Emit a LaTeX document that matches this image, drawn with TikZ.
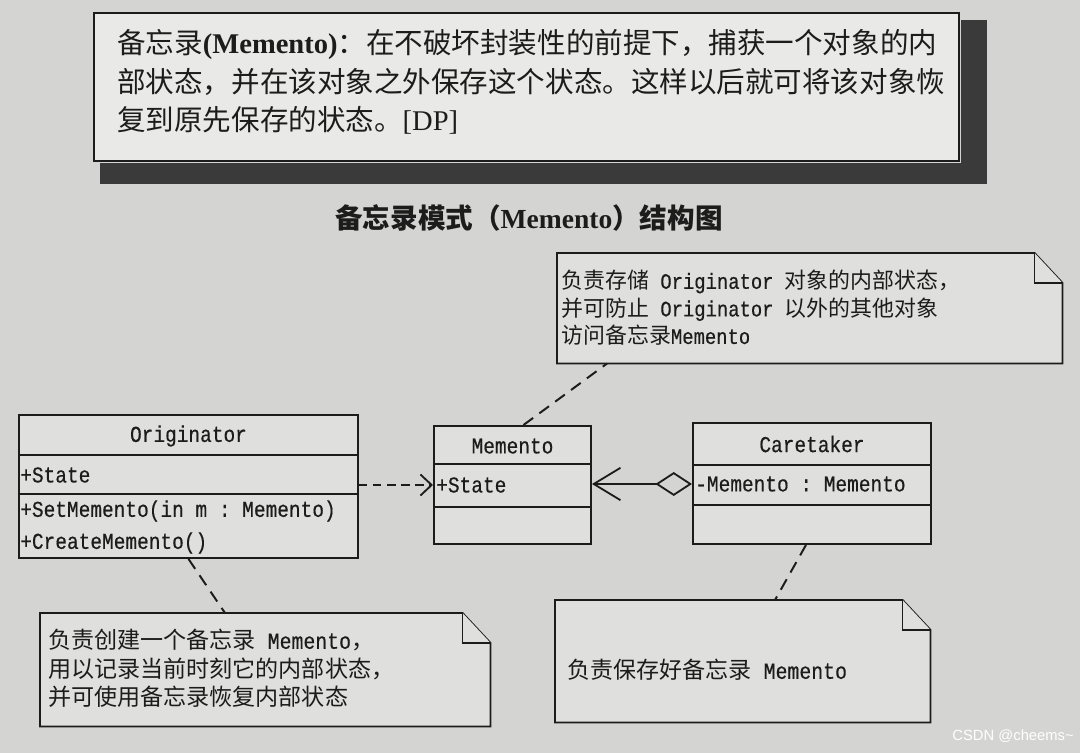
\documentclass[tikz,border=0pt]{standalone}
\usepackage{fontspec}
\setmainfont{Liberation Serif}
\setmonofont[FakeStretch=0.86, FakeBold=0.4]{Liberation Mono}
\newfontfamily\cjk{Noto Sans CJK SC}
\newfontfamily\wmfont{Liberation Sans}
\usetikzlibrary{arrows.meta,positioning}
\definecolor{PaperGray}{RGB}{212,212,210}
\definecolor{BoxGray}{RGB}{223,223,221}
\definecolor{DefGray}{RGB}{233,233,231}
\definecolor{ShadowGray}{RGB}{58,58,58}
\definecolor{InkBlack}{RGB}{28,28,28}
\newcommand{\pxu}{0.025cm}
\newcommand{\zh}[1]{{\cjk #1}}
% note outline with folded corner
\newcommand{\notecorner}[1]{%
  \filldraw[noteline] (#1.south west) -- (#1.north west) -- ([xshift=-28*\pxu]#1.north east)
    -- ([yshift=-30*\pxu]#1.north east) -- (#1.south east) -- cycle;
  \draw[noteline] ([xshift=-28*\pxu]#1.north east) |- ([yshift=-30*\pxu]#1.north east);
}
\tikzset{
  defbox/.style={draw=InkBlack, line width=1.5pt, fill=DefGray, anchor=north west, inner sep=0pt},
  deftext/.style={anchor=north west, align=left, inner sep=0pt, text=InkBlack,
    font=\fontsize{20.3}{27.5}\selectfont},
  titletext/.style={inner sep=0pt, text=InkBlack, font=\fontsize{19.6}{22}\selectfont},
  umlbox/.style={draw=InkBlack, line width=1.4pt, fill=BoxGray, anchor=north west, inner sep=0pt},
  umlline/.style={draw=InkBlack, line width=1.4pt},
  classname/.style={inner sep=0pt, text=InkBlack, font=\ttfamily\fontsize{16.1}{18}\selectfont},
  member/.style={anchor=west, inner sep=0pt, text=InkBlack, font=\ttfamily\fontsize{16.1}{18}\selectfont},
  notebox/.style={anchor=north west, inner sep=0pt, draw=none},
  noteline/.style={draw=InkBlack, fill=BoxGray, line width=1.3pt, line join=miter},
  notetext/.style={anchor=north west, align=left, inner sep=0pt, text=InkBlack,
    font=\ttfamily\fontsize{15.6}{19.6}\selectfont},
  notelink/.style={draw=InkBlack, line width=1.4pt, dash pattern=on 8.5pt off 5.5pt},
  depend/.style={draw=InkBlack, line width=1.3pt, dash pattern=on 6pt off 4pt,
    -{Straight Barb[length=8pt, width=15pt]}},
  aggr/.style={draw=InkBlack, line width=1.3pt,
    {Diamond[open, length=26pt, width=17pt]}-{Straight Barb[length=19pt, width=23pt]}},
}

\begin{document}
\begin{tikzpicture}[x=0.025cm, y=-0.025cm]
  \useasboundingbox[fill=PaperGray] (0,0) rectangle (1080,753);

  % definition box
  \node[defbox, minimum width=865*\pxu, minimum height=148*\pxu] (defn) at (93,12) {};
  \fill[ShadowGray] ([shift={(1,8)}]defn.north east) rectangle ([shift={(27,22)}]defn.south east);
  \fill[ShadowGray] ([shift={(7,1)}]defn.south west) rectangle ([shift={(27,22)}]defn.south east);
  \node[deftext] (deftxt) at (117,29) {\zh{备忘录}\textbf{(Memento)}\zh{：在不破坏封装性的前提下，捕获一个对象的内}\\
    \zh{部状态，并在该对象之外保存这个状态。这样以后就可将该对象恢}\\
    \zh{复到原先保存的状态。}[DP]};

  \node[titletext] (title) at (529,218) {\zh{\bfseries 备忘录模式（}\textbf{Memento}\zh{\bfseries ）结构图}};

  % notes
  \node[notebox, minimum width=505*\pxu, minimum height=110*\pxu] (storenote) at (557,253) {};
  \notecorner{storenote}
  \node[notetext] (storenote-txt) at (561,270) {\zh{负责存储} Originator \zh{对象的内部状态，}\\
    \zh{并可防止} Originator \zh{以外的其他对象}\\
    \zh{访问备忘录}Memento};

  \node[notebox, minimum width=450*\pxu, minimum height=113*\pxu] (orignote) at (40,613) {};
  \notecorner{orignote}
  \node[notetext, font=\ttfamily\fontsize{16.4}{20.3}\selectfont] (orignote-txt) at (48,629) {\zh{负责创建一个备忘录} Memento\zh{，}\\
    \zh{用以记录当前时刻它的内部状态，}\\
    \zh{并可使用备忘录恢复内部状态}};

  \node[notebox, minimum width=375*\pxu, minimum height=122*\pxu] (carenote) at (555,600) {};
  \notecorner{carenote}
  \node[notetext, anchor=west, font=\ttfamily\fontsize{16.4}{20.3}\selectfont] (carenote-txt) at (567,670) {\zh{负责保存好备忘录} Memento};

  % classes
  \node[umlbox, minimum width=339*\pxu, minimum height=143*\pxu] (orig) at (18,414) {};
  \draw[umlline] (orig.west |- 0,455) -- (orig.east |- 0,455);
  \draw[umlline] (orig.west |- 0,494) -- (orig.east |- 0,494);
  \node[classname] (orig-name) at (orig.north |- 0,436) {Originator};
  \node[member] (orig-state) at (20,475) {+State};
  \node[member] (orig-set) at (20,511) {+SetMemento(in m : Memento)};
  \node[member] (orig-create) at (20,543) {+CreateMemento()};

  \node[umlbox, minimum width=157*\pxu, minimum height=118*\pxu] (mem) at (433,425) {};
  \draw[umlline] (mem.west |- 0,464) -- (mem.east |- 0,464);
  \draw[umlline] (mem.west |- 0,507) -- (mem.east |- 0,507);
  \node[classname] (mem-name) at (mem.north |- 0,446) {Memento};
  \node[member] (mem-state) at (436,485) {+State};

  \node[umlbox, minimum width=238*\pxu, minimum height=121*\pxu] (care) at (692,422) {};
  \draw[umlline] (care.west |- 0,465) -- (care.east |- 0,465);
  \draw[umlline] (care.west |- 0,505) -- (care.east |- 0,505);
  \node[classname] (care-name) at (care.north |- 0,444) {Caretaker};
  \node[member] (care-memento) at (695,484) {-Memento : Memento};

  % relations
  \draw[depend] (orig.east |- mem-state) -- (mem.west |- mem-state);
  \draw[aggr] (care.west |- care-memento) -- (mem.east |- care-memento);

  \draw[notelink] ([xshift=11*\pxu]mem.north) -- ([xshift=50*\pxu]storenote.south west);
  \draw[notelink] (orig.south) -- ([xshift=185*\pxu]orignote.north west);
  \draw[notelink] ([xshift=-6*\pxu]care.south) -- ([xshift=220*\pxu]carenote.north west);

  \node[anchor=east, inner sep=0pt, text=white, font=\wmfont\fontsize{10.5}{12}\selectfont] (mark) at (1074,736) {CSDN @cheems\textasciitilde};
\end{tikzpicture}
\end{document}
